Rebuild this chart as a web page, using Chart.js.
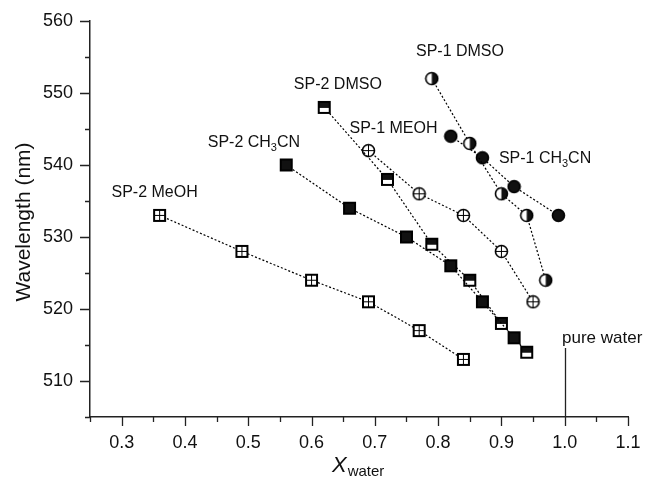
<!DOCTYPE html>
<html>
<head>
<meta charset="utf-8">
<script src="https://cdn.jsdelivr.net/npm/chart.js@4"></script>
<style>
  html, body { margin: 0; padding: 0; background: #fff; }
  #chart { display: block; }
</style>
</head>
<body>
<canvas id="chart" width="651" height="477"></canvas>
<script>
// tick labels
const xTicks = [0.3, 0.4, 0.5, 0.6, 0.7, 0.8, 0.9, 1.0, 1.1];
const yTicks = [510, 520, 530, 540, 550, 560];

// series values
const sp2MeohX = [0.36, 0.49, 0.60, 0.69, 0.77, 0.84];
const sp2MeohY = [533, 528, 524, 521, 517, 513];
const sp2Ch3cnX = [0.56, 0.66, 0.75, 0.82, 0.87, 0.92];
const sp2Ch3cnY = [540, 534, 530, 526, 521, 516];
const sp2DmsoX = [0.62, 0.72, 0.79, 0.85, 0.90, 0.94];
const sp2DmsoY = [548, 538, 529, 524, 518, 514];
const sp1MeohX = [0.69, 0.77, 0.84, 0.90, 0.95];
const sp1MeohY = [542, 536, 533, 528, 521];
const sp1DmsoX = [0.79, 0.85, 0.90, 0.94, 0.97];
const sp1DmsoY = [552, 543, 536, 533, 524];
const sp1Ch3cnX = [0.82, 0.87, 0.92, 0.99];
const sp1Ch3cnY = [544, 541, 537, 533];

// series labels: [text before sub, subscript, text after, x, y]
const seriesLabels = [
    ['SP-2 MeOH', '', '', 0.284, 535.6],
    ['SP-2 CH', '3', 'CN', 0.436, 542.5],
    ['SP-2 DMSO', '', '', 0.572, 550.6],
    ['SP-1 MEOH', '', '', 0.660, 544.4],
    ['SP-1 DMSO', '', '', 0.765, 555.1],
    ['SP-1 CH', '3', 'CN', 0.896, 540.3],
];
const pureWaterX = 1.0;
const pureWaterTop = 514.6;

const FONT = '"Liberation Sans", Arial, sans-serif';

function makeMarker(kind) {
    const c = document.createElement('canvas');
    c.width = 15; c.height = 15;
    const g = c.getContext('2d');
    const m = 7.5, h = 5.5;
    g.lineWidth = 2;
    g.strokeStyle = '#000';
    g.fillStyle = '#fff';
    if (kind.startsWith('square')) {
        g.fillRect(m - h, m - h, 2 * h, 2 * h);
        if (kind === 'squareFilled') {
            g.fillStyle = '#111';
            g.fillRect(m - h, m - h, 2 * h, 2 * h);
        } else if (kind === 'squareHalf') {
            g.fillStyle = '#111';
            g.fillRect(m - h, m - h, 2 * h, 6);
        } else if (kind === 'squareCross') {
            g.lineWidth = 1;
            g.beginPath();
            g.moveTo(m, m - h); g.lineTo(m, m + h);
            g.moveTo(m - h, m); g.lineTo(m + h, m);
            g.stroke();
            g.lineWidth = 2;
        }
        g.strokeRect(m - h, m - h, 2 * h, 2 * h);
    } else {
        const r = 6;
        g.lineWidth = 1.6;
        g.beginPath();
        g.arc(m, m, r, 0, Math.PI * 2);
        g.fill();
        if (kind === 'circleFilled') {
            g.fillStyle = '#111';
            g.fill();
        } else if (kind === 'circleHalf') {
            g.fillStyle = '#111';
            g.beginPath();
            g.arc(m, m, r, -Math.PI / 2, Math.PI / 2);
            g.closePath();
            g.fill();
        } else if (kind === 'circlePlus') {
            g.lineWidth = 1;
            g.beginPath();
            g.moveTo(m, m - r); g.lineTo(m, m + r);
            g.moveTo(m - r, m); g.lineTo(m + r, m);
            g.stroke();
            g.lineWidth = 1.6;
        }
        g.beginPath();
        g.arc(m, m, r, 0, Math.PI * 2);
        g.stroke();
    }
    return c;
}

function series(label, xs, ys, kind) {
    return {
        label,
        data: xs.map((x, i) => ({ x, y: ys[i] })),
        showLine: true,
        borderColor: '#000',
        borderWidth: 1.2,
        borderDash: [2, 2],
        pointStyle: makeMarker(kind),
        pointRadius: 8,
        pointHoverRadius: 8,
    };
}

const decorations = {
    id: 'decorations',
    afterDraw(chart) {
        const ctx = chart.ctx;
        const xs = chart.scales.x, ys = chart.scales.y;
        const area = chart.chartArea;
        ctx.save();
        ctx.strokeStyle = '#222';
        ctx.lineWidth = 1.3;
        ctx.beginPath();
        // y ticks
        for (let v = ys.min; v <= ys.max + 0.001; v += 5) {
            const py = Math.round(ys.getPixelForValue(v)) + 0.5;
            const len = yTicks.includes(Math.round(v)) ? 10 : 5;
            ctx.moveTo(area.left, py); ctx.lineTo(area.left - len, py);
        }
        // x ticks
        for (let v = xs.min; v <= xs.max + 0.001; v += 0.05) {
            const px = Math.round(xs.getPixelForValue(v)) + 0.5;
            const major = xTicks.some(t => Math.abs(t - v) < 0.001);
            ctx.moveTo(px, area.bottom); ctx.lineTo(px, area.bottom + (major ? 9 : 5));
        }
        // pure water marker line
        const wx = Math.round(xs.getPixelForValue(pureWaterX)) + 0.5;
        ctx.moveTo(wx, ys.getPixelForValue(pureWaterTop));
        ctx.lineTo(wx, area.bottom);
        ctx.stroke();

        ctx.fillStyle = '#111';
        ctx.textBaseline = 'alphabetic';
        ctx.textAlign = 'left';
        seriesLabels.forEach(([a, sub, b, x, y]) => {
            let px = xs.getPixelForValue(x);
            const py = ys.getPixelForValue(y);
            ctx.font = '16px ' + FONT;
            ctx.fillText(a, px, py);
            px += ctx.measureText(a).width;
            if (sub) {
                ctx.font = '11px ' + FONT;
                ctx.fillText(sub, px, py + 4);
                px += ctx.measureText(sub).width;
                ctx.font = '16px ' + FONT;
                ctx.fillText(b, px, py);
            }
        });
        ctx.font = '17px ' + FONT;
        ctx.fillText('pure water', xs.getPixelForValue(0.9957), ys.getPixelForValue(515.3));

        // x axis title
        ctx.font = 'italic 22px ' + FONT;
        ctx.fillText('X', 332, 472);
        const w = ctx.measureText('X').width;
        ctx.font = '15px ' + FONT;
        ctx.fillText('water', 332 + w + 1, 476);

        // y axis title
        ctx.translate(30, 222);
        ctx.rotate(-Math.PI / 2);
        ctx.textAlign = 'center';
        ctx.font = '21px ' + FONT;
        ctx.fillText('Wavelength (nm)', 0, 0);
        ctx.restore();
    }
};

new Chart(document.getElementById('chart'), {
    type: 'scatter',
    data: {
        datasets: [
            series('SP-2 MeOH', sp2MeohX, sp2MeohY, 'squareCross'),
            series('SP-2 CH3CN', sp2Ch3cnX, sp2Ch3cnY, 'squareFilled'),
            series('SP-2 DMSO', sp2DmsoX, sp2DmsoY, 'squareHalf'),
            series('SP-1 MEOH', sp1MeohX, sp1MeohY, 'circlePlus'),
            series('SP-1 DMSO', sp1DmsoX, sp1DmsoY, 'circleHalf'),
            series('SP-1 CH3CN', sp1Ch3cnX, sp1Ch3cnY, 'circleFilled'),
        ]
    },
    options: {
        responsive: false,
        animation: false,
        layout: { padding: { left: 0, right: 23, top: 21, bottom: 0 } },
        plugins: {
            legend: { display: false },
            tooltip: { enabled: false },
        },
        scales: {
            x: {
                type: 'linear',
                min: 0.25,
                max: 1.1,
                afterBuildTicks: scale => { scale.ticks = xTicks.map(v => ({ value: v })); },
                afterFit: scale => {
                    scale.height = 60;
                    scale.paddingLeft = 0;
                    scale.paddingRight = 0;
                },
                grid: { display: false, drawTicks: false },
                border: { display: true, color: '#222', width: 1.5 },
                ticks: {
                    color: '#111',
                    font: { family: FONT, size: 18 },
                    padding: 15,
                    maxRotation: 0,
                    callback: v => v.toFixed(1),
                },
            },
            y: {
                type: 'linear',
                min: 505,
                max: 560,
                afterBuildTicks: scale => { scale.ticks = yTicks.map(v => ({ value: v })); },
                afterFit: scale => {
                    scale.width = 90;
                    scale.paddingTop = 0;
                    scale.paddingBottom = 0;
                },
                grid: { display: false, drawTicks: false },
                border: { display: true, color: '#222', width: 1.5 },
                ticks: {
                    color: '#111',
                    font: { family: FONT, size: 18 },
                    padding: 17,
                },
            },
        },
    },
    plugins: [decorations],
});
</script>
</body>
</html>
